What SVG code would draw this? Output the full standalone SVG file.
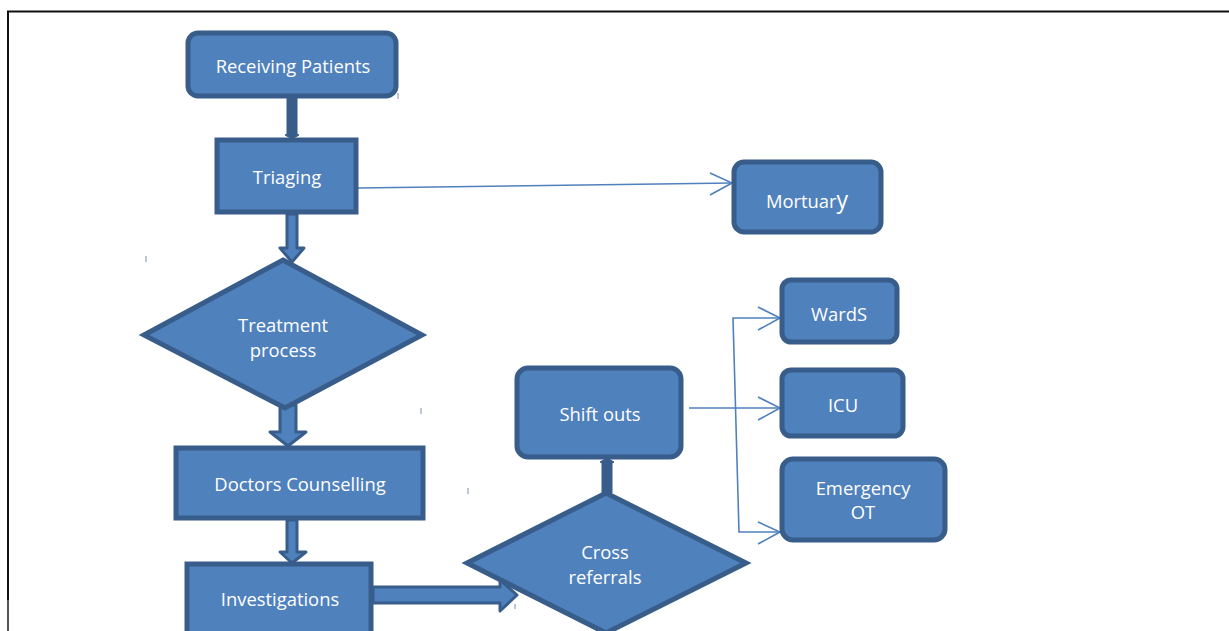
<svg xmlns="http://www.w3.org/2000/svg" width="1229" height="631" viewBox="0 0 1229 631">
<style>
.box{fill:#4F81BD;stroke:#385D8A;stroke-width:5}
.blk{fill:#4F81BD;stroke:#385D8A;stroke-width:3;stroke-linejoin:round}
.dark{fill:#385D8A;stroke:#385D8A;stroke-width:1}
.thin{fill:none;stroke:#4F81BD;stroke-width:1.6}
.lbl{font-family:"Open Sans","Liberation Sans",sans-serif;font-size:18.4px;fill:#FFFFFF;text-anchor:middle}
.tick{stroke:#7F8FA6;stroke-width:1}
</style>
<rect width="1229" height="631" fill="#FFFFFF"/>
<g id="page">
<line x1="7" y1="11.5" x2="1229" y2="11.5" stroke="#111" stroke-width="2"/>
<line x1="8" y1="11" x2="8" y2="600" stroke="#111" stroke-width="2"/>
<line x1="8" y1="600" x2="8" y2="631" stroke="#555" stroke-width="2"/>
<line class="tick" x1="146" y1="256" x2="146" y2="262"/>
<line class="tick" x1="421" y1="408" x2="421" y2="414"/>
<line class="tick" x1="468" y1="488" x2="468" y2="494"/>
<line class="tick" x1="398" y1="93" x2="398" y2="99"/>
<line class="tick" x1="515" y1="604" x2="515" y2="609"/>
</g>
<g id="connectors">
<polygon class="dark" points="287,97 297,97 297,134 299,135 292,139 285,135 287,134"/>
<polygon class="blk" points="287,214 297,214 297,248 304,248 292,262 280,248 287,248"/>
<polygon class="blk" points="280,405 296,405 296,432 306,432 288,446 270,432 280,432"/>
<polygon class="blk" points="287,520 297,520 297,552 306,552 292,563 280,552 287,552"/>
<polygon class="blk" points="373,587 500,587 500,580 517,595 500,611 500,603 373,603"/>
<polygon class="dark" points="602,493 612,493 612,463 614,462 607,458 600,462 602,463"/>
<polyline class="thin" points="358,188 732,183"/>
<polyline class="thin" points="710,173 732,183 710,195"/>
<polyline class="thin" points="689,408 780,408"/>
<polyline class="thin" points="758,397 780,408 758,420"/>
<polyline class="thin" points="780,318 733,318 739,532 780,532"/>
<polyline class="thin" points="758,307 780,318 758,330"/>
<polyline class="thin" points="758,522 780,532 758,544"/>
</g>
<g id="receiving">
<rect class="box" x="188" y="33" width="208" height="63" rx="10"/>
<text class="lbl" x="293" y="73">Receiving Patients</text>
</g>
<g id="triaging">
<rect class="box" x="217" y="140" width="139" height="72"/>
<text class="lbl" x="287" y="184">Triaging</text>
</g>
<g id="treatment">
<polygon class="box" points="283,260 422,335 285,408 144,335"/>
<text class="lbl" x="283" y="332">Treatment</text>
<text class="lbl" x="283" y="357">process</text>
</g>
<g id="doctors">
<rect class="box" x="176" y="448" width="247" height="70"/>
<text class="lbl" x="300" y="491">Doctors Counselling</text>
</g>
<g id="investigations">
<rect class="box" x="187" y="564" width="184" height="80"/>
<text class="lbl" x="280" y="606">Investigations</text>
</g>
<g id="cross">
<polygon class="box" points="606,493 746,563 606,633 467,563"/>
<text class="lbl" x="605" y="559">Cross</text>
<text class="lbl" x="605" y="584">referrals</text>
</g>
<g id="shiftouts">
<rect class="box" x="517" y="368" width="164" height="89" rx="11"/>
<text class="lbl" x="600" y="421">Shift outs</text>
</g>
<g id="mortuary">
<rect class="box" x="734" y="162" width="147" height="70" rx="10"/>
<text class="lbl" x="807" y="208">Mortuar<tspan font-size="23px">y</tspan></text>
</g>
<g id="wards">
<rect class="box" x="782" y="280" width="115" height="62" rx="9"/>
<text class="lbl" x="839" y="321">WardS</text>
</g>
<g id="icu">
<rect class="box" x="782" y="370" width="121" height="66" rx="9"/>
<text class="lbl" x="843" y="412">ICU</text>
</g>
<g id="emergency">
<rect class="box" x="782" y="459" width="163" height="81" rx="11"/>
<text class="lbl" x="863" y="495">Emergency</text>
<text class="lbl" x="863" y="519">OT</text>
</g>
</svg>
